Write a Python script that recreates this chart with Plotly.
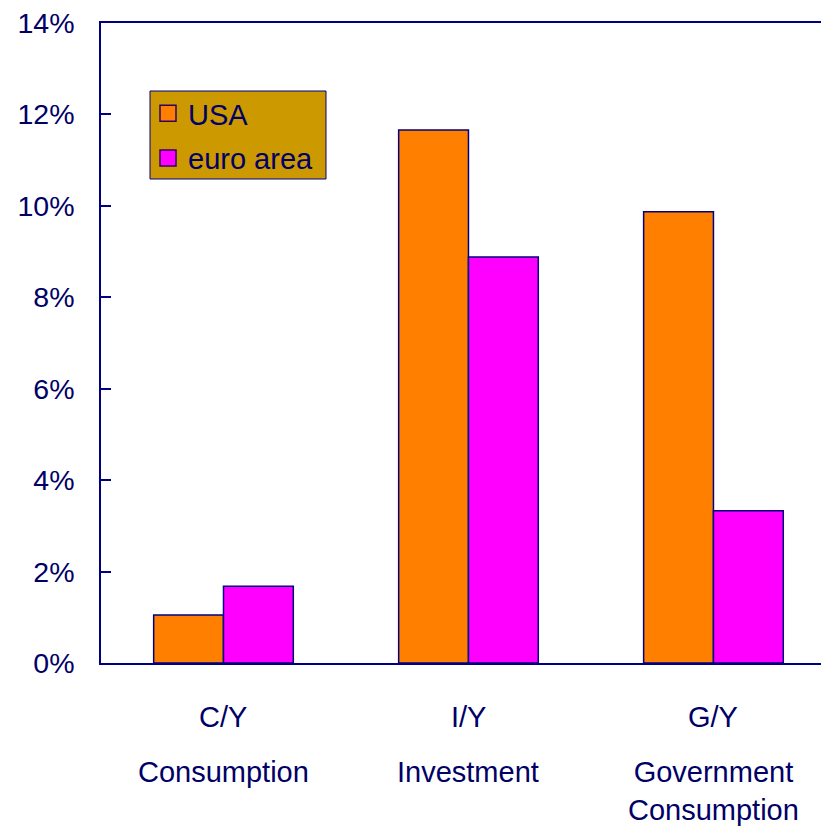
import plotly.graph_objects as go

# Change in expenditure shares, by component
categories = ["C/Y", "I/Y", "G/Y"]
descriptions = ["Consumption", "Investment", "Government<br>Consumption"]
usa = [1.05, 11.66, 9.87]
euro_area = [1.68, 8.88, 3.33]
y_ticks = [0, 2, 4, 6, 8, 10, 12, 14]
y_tick_labels = [f"{v}%" for v in y_ticks]

NAVY = "#000080"
TEXT = "#000066"
FONT = "Liberation Sans, Arial, sans-serif"

# Plot-area geometry in pixels, used to place the legend box
PL, PT, PW, PH = 101, 23, 720, 640


def px_x(p):
    return (p - PL) / PW


def px_y(p):
    return 1 - (p - PT) / PH


fig = go.Figure()
fig.add_trace(go.Bar(x=categories, y=usa, name="USA", marker=dict(color="#FF8000", line=dict(color=NAVY, width=1.5)), showlegend=False))
fig.add_trace(go.Bar(x=categories, y=euro_area, name="euro area", marker=dict(color="#FF00FF", line=dict(color=NAVY, width=1.5)), showlegend=False))

# Legend entries drawn as square markers
for name, color, grp in [("USA", "#FF8000", "a"), ("euro area", "#FF00FF", "b")]:
    fig.add_trace(go.Scatter(x=[None], y=[None], mode="markers", name=name, legendgroup=grp,
                             marker=dict(symbol="square", size=17, color=color, line=dict(color="#330066", width=1.5))))

annotations = []
for cat, desc in zip(categories, descriptions):
    annotations.append(dict(x=cat, y=0, xref="x", yref="paper", text=cat, showarrow=False,
                            yanchor="middle", yshift=-54, font=dict(size=29, color=TEXT, family=FONT)))
    annotations.append(dict(x=cat, y=0, xref="x", yref="paper", text=desc, showarrow=False,
                            yanchor="top", yshift=-91, font=dict(size=29, color=TEXT, family=FONT)))

# Legend background box
shapes = [dict(type="rect", xref="paper", yref="paper",
               x0=px_x(150), x1=px_x(326), y0=px_y(179), y1=px_y(91),
               fillcolor="#CC9900", line=dict(color=NAVY, width=1), layer="above")]

fig.update_layout(
    width=821, height=827,
    margin=dict(l=PL, r=0, t=PT, b=164),
    paper_bgcolor="white", plot_bgcolor="white",
    barmode="group", bargap=0.43, bargroupgap=0,
    font=dict(family=FONT, size=29, color=TEXT),
    legend=dict(x=px_x(148), y=px_y(88), xanchor="left", yanchor="top",
                bgcolor="rgba(0,0,0,0)", borderwidth=0,
                font=dict(size=29, color=TEXT, family=FONT), tracegroupgap=4,
                itemwidth=30),
    annotations=annotations,
    shapes=shapes,
    showlegend=True,
)
fig.update_xaxes(type="category", range=[-0.5, 2.439], showticklabels=False, ticks="",
                 showline=True, linecolor=NAVY, linewidth=1.5, mirror=True, showgrid=False, zeroline=False)
fig.update_yaxes(range=[0, 14], tickvals=y_ticks, ticktext=y_tick_labels, ticks="inside", ticklen=10,
                 tickcolor=NAVY, tickwidth=1.5, showline=True, linecolor=NAVY, linewidth=1.5,
                 showgrid=False, zeroline=False, ticklabelstandoff=19,
                 tickfont=dict(size=28.5, color=TEXT, family=FONT))

fig.write_html("out.html")
